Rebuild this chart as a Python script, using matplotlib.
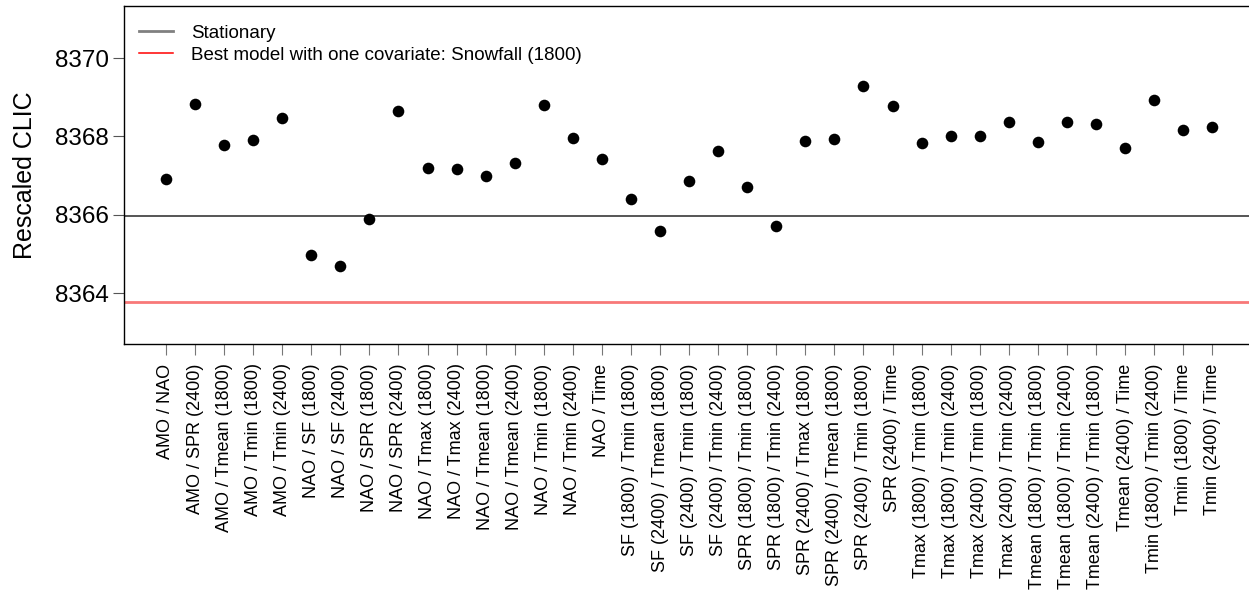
import matplotlib
matplotlib.use("Agg")
import matplotlib.pyplot as plt
from matplotlib.lines import Line2D

plt.rcParams['font.family'] = ['Liberation Sans', 'DejaVu Sans']

categories = [
    "AMO / NAO", "AMO / SPR (2400)", "AMO / Tmean (1800)", "AMO / Tmin (1800)",
    "AMO / Tmin (2400)", "NAO / SF (1800)", "NAO / SF (2400)", "NAO / SPR (1800)",
    "NAO / SPR (2400)", "NAO / Tmax (1800)", "NAO / Tmax (2400)", "NAO / Tmean (1800)",
    "NAO / Tmean (2400)", "NAO / Tmin (1800)", "NAO / Tmin (2400)", "NAO / Time",
    "SF (1800) / Tmin (1800)", "SF (2400) / Tmean (1800)", "SF (2400) / Tmin (1800)",
    "SF (2400) / Tmin (2400)", "SPR (1800) / Tmin (1800)", "SPR (1800) / Tmin (2400)",
    "SPR (2400) / Tmax (1800)", "SPR (2400) / Tmean (1800)", "SPR (2400) / Tmin (1800)",
    "SPR (2400) / Time", "Tmax (1800) / Tmin (1800)", "Tmax (1800) / Tmin (2400)",
    "Tmax (2400) / Tmin (1800)", "Tmax (2400) / Tmin (2400)", "Tmean (1800) / Tmin (1800)",
    "Tmean (1800) / Tmin (2400)", "Tmean (2400) / Tmin (1800)", "Tmean (2400) / Time",
    "Tmin (1800) / Tmin (2400)", "Tmin (1800) / Time", "Tmin (2400) / Time",
]

clic_values = [
    8366.92, 8368.84, 8367.77, 8367.90, 8368.46, 8364.98, 8364.68, 8365.90,
    8368.66, 8367.20, 8367.17, 8366.99, 8367.33, 8368.79, 8367.95, 8367.43,
    8366.40, 8365.59, 8366.87, 8367.62, 8366.71, 8365.72, 8367.88, 8367.94,
    8369.28, 8368.78, 8367.84, 8368.02, 8368.02, 8368.37, 8367.86, 8368.37,
    8368.32, 8367.71, 8368.93, 8368.17, 8368.24,
]

stationary_value = 8365.97
best_one_cov_value = 8363.78
yticks = [8364, 8366, 8368, 8370]

fig = plt.figure(figsize=(12.49, 5.94), dpi=100)
ax = fig.add_axes([124/1249, 1 - 344/594, (1260-124)/1249, (344-6)/594])

x = list(range(len(categories)))
ax.scatter(x, clic_values, s=70, color='black', zorder=3, linewidths=0)
ax.axhline(stationary_value, color='#555555', lw=1.4, zorder=2)
ax.axhline(best_one_cov_value, color='#F87878', lw=2.0, zorder=2)

ax.set_xlim(-1.445, 37.645)
ax.set_ylim(8362.70, 8371.33)
ax.set_xticks(x)
ax.set_xticklabels(categories, rotation=90, fontsize=13)
ax.set_yticks(yticks)
ax.set_yticklabels([str(t) for t in yticks], fontsize=17.5)
ax.tick_params(axis='y', length=8, width=0.8, color='#555555', pad=3)
ax.tick_params(axis='x', length=8, width=0.8, color='#777777', pad=6)
ax.set_ylabel("Rescaled CLIC", fontsize=18, labelpad=13)
ax.spines['right'].set_visible(False)
for s in ['left', 'top', 'bottom']:
    ax.spines[s].set_linewidth(1.0)

handles = [Line2D([0], [0], color='#808080', lw=2.0),
           Line2D([0], [0], color='red', lw=1.1)]
ax.legend(handles, ["Stationary", "Best model with one covariate: Snowfall (1800)"],
          loc='upper left', bbox_to_anchor=(0.003, 0.978), frameon=False,
          fontsize=13.5, handlelength=1.85, handletextpad=0.95, labelspacing=0.25,
          borderaxespad=0.2)

fig.savefig("out.png", dpi=100)
